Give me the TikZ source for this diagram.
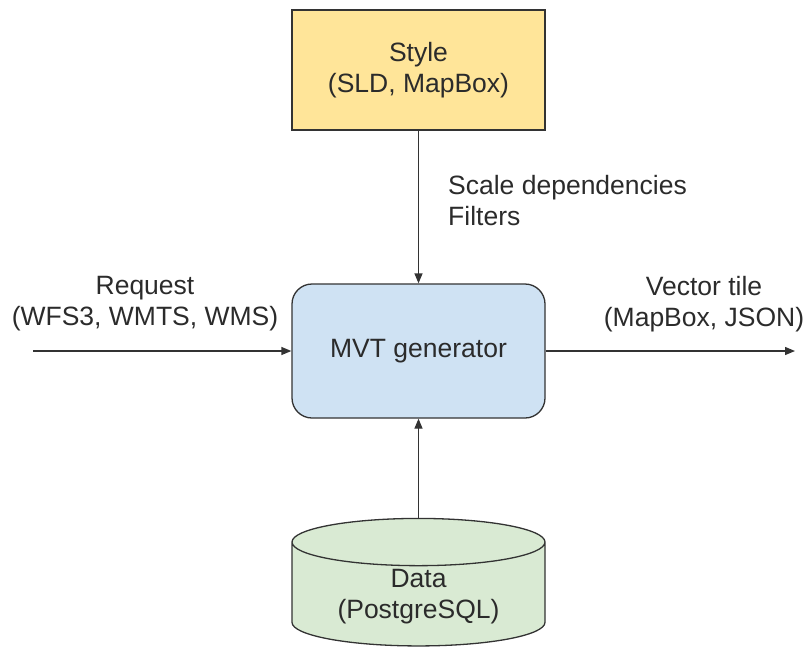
\documentclass[tikz,border=0pt]{standalone}
\usepackage{fontspec}
\setmainfont{Liberation Sans}
\usetikzlibrary{arrows.meta,shapes.geometric}

\definecolor{cfgfill}{HTML}{FFE599}
\definecolor{genfill}{HTML}{CFE2F3}
\definecolor{dbfill}{HTML}{D9EAD3}
\definecolor{edge}{HTML}{333333}
\definecolor{ink}{HTML}{2B2B2B}

\begin{document}
\begin{tikzpicture}[
        x=1pt, y=-1pt,
        >={Triangle[length=10pt, width=8pt]},
        every node/.style={font=\fontsize{26.5}{31}\selectfont, text=ink},
        cfgbox/.style={draw=edge, line width=1.3pt, fill=cfgfill, minimum width=253pt, minimum height=120pt, align=center},
        genbox/.style={draw=edge, line width=1.3pt, fill=genfill, rounded corners=20pt, minimum width=253pt, minimum height=134pt, align=center},
        dbstore/.style={draw=edge, line width=1.3pt, fill=dbfill, cylinder, shape border rotate=90, aspect=0.28, minimum width=253pt, minimum height=120pt, align=center},
        flow/.style={->, draw=edge, line width=1.3pt},
        note/.style={inner sep=0pt, align=center}
    ]
        \useasboundingbox (0,0) rectangle (808,648);

        % Kotak utama
        \node[cfgbox] (sld) at (418.5,70) {Style\\(SLD, MapBox)};
        \node[genbox] (mvt) at (418.5,351) {MVT generator};
        \node[dbstore] (db) at (418.5,597) {Data\\(PostgreSQL)};

        % Ujung bebas panah masuk dan keluar
        \coordinate (reqin) at (33,351);
        \coordinate (tileout) at (795,351);

        % Panah
        \draw[flow] (sld.south) -- (mvt.north);
        \draw[flow] (db.north) -- (mvt.south);
        \draw[flow] (reqin) -- (mvt.west);
        \draw[flow] (mvt.east) -- (tileout);

        % Label panah
        \node[note] (reqlbl) at (145,304) {Request\\(WFS3, WMTS, WMS)};
        \node[note] (tilelbl) at (704,304) {Vector tile\\(MapBox, JSON)};
        \node[note, anchor=west, align=left] (scalelbl) at (448,201) {Scale dependencies\\Filters};

    \end{tikzpicture}
\end{document}
